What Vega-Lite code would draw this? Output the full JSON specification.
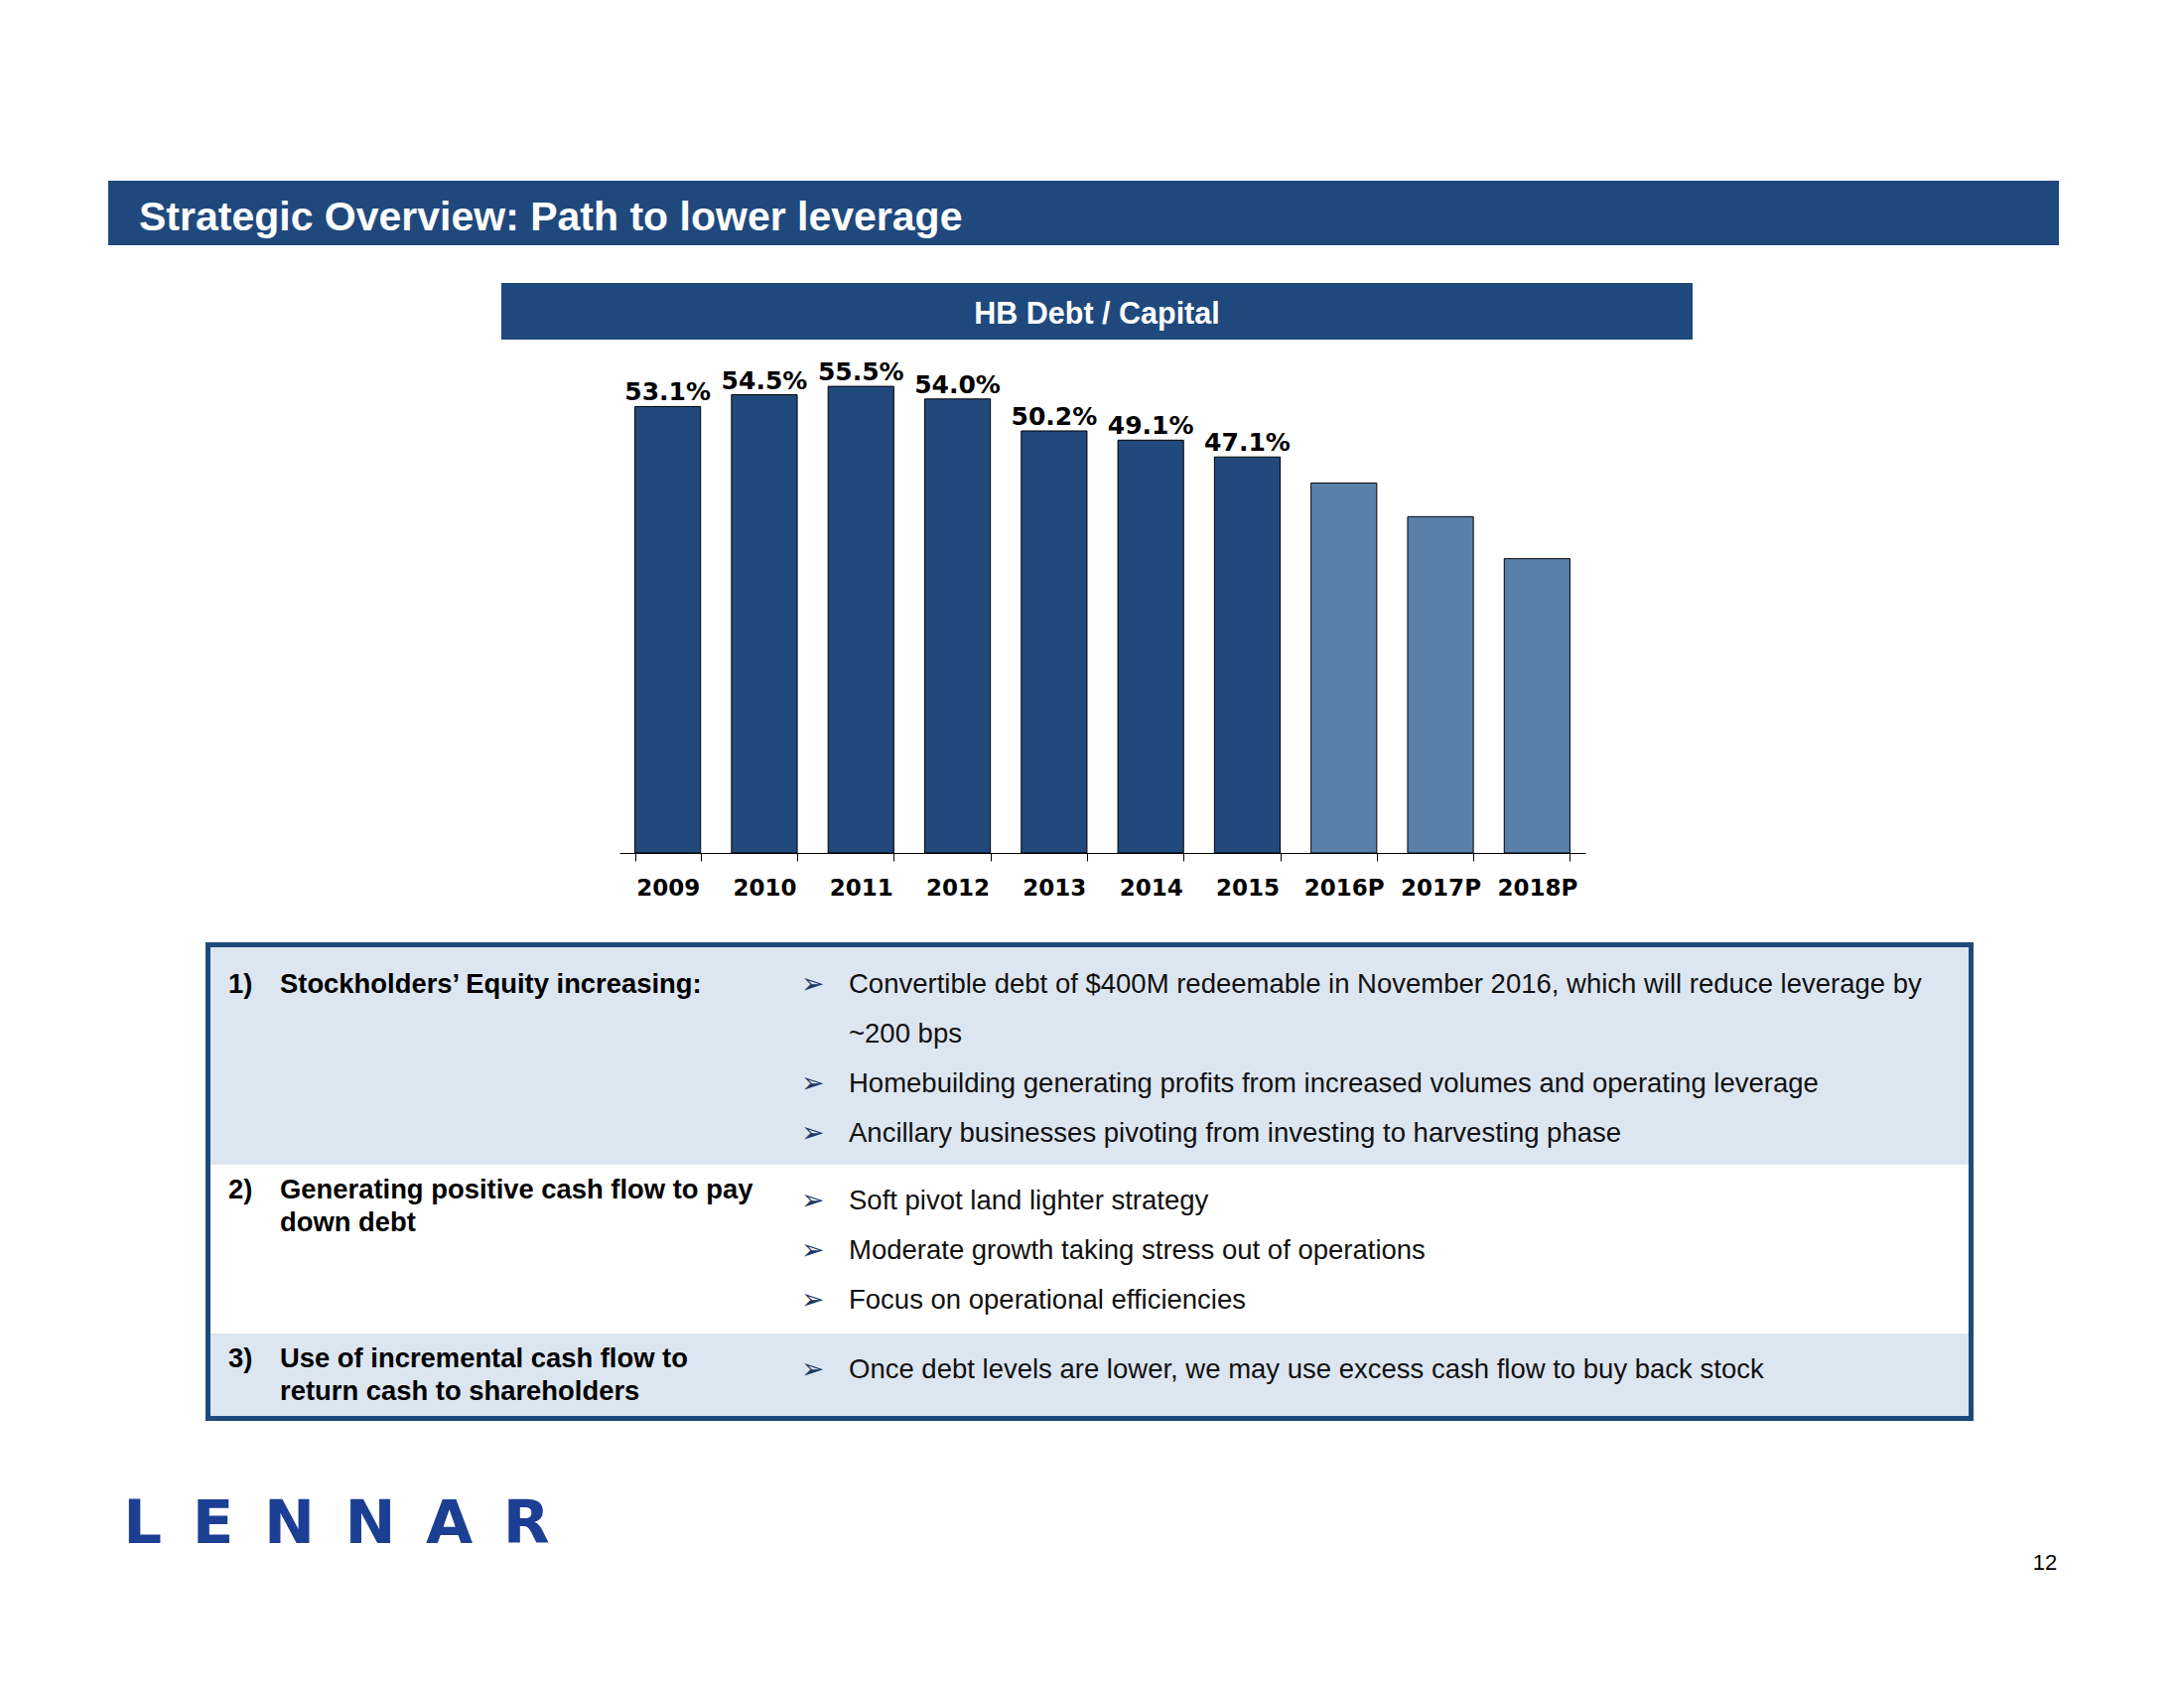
{
 "$schema": "https://vega.github.io/schema/vega-lite/v6.json",
 "background": "white",
 "padding": {"left": 109, "top": 182, "right": 0, "bottom": 0},
 "config": {"view": {"stroke": null}, "concat": {"spacing": 0}},
 "datasets": {
  "debt": [
   {"year": "2009", "value": 0.531, "type": "Actual"},
   {"year": "2010", "value": 0.545, "type": "Actual"},
   {"year": "2011", "value": 0.555, "type": "Actual"},
   {"year": "2012", "value": 0.540, "type": "Actual"},
   {"year": "2013", "value": 0.502, "type": "Actual"},
   {"year": "2014", "value": 0.491, "type": "Actual"},
   {"year": "2015", "value": 0.471, "type": "Actual"},
   {"year": "2016P", "value": 0.44, "type": "Projected"},
   {"year": "2017P", "value": 0.40, "type": "Projected"},
   {"year": "2018P", "value": 0.35, "type": "Projected"}
  ],
  "heads": [
   {"section": 1, "num": "1)", "head": ["Stockholders’ Equity increasing:"]},
   {"section": 2, "num": "2)", "head": ["Generating positive cash flow to pay", "down debt"]},
   {"section": 3, "num": "3)", "head": ["Use of incremental cash flow to", "return cash to shareholders"]}
  ],
  "items": [
   {"section": 1, "line": 0, "bullet": true, "text": "Convertible debt of $400M redeemable in November 2016, which will reduce leverage by"},
   {"section": 1, "line": 1, "bullet": false, "text": "~200 bps"},
   {"section": 1, "line": 2, "bullet": true, "text": "Homebuilding generating profits from increased volumes and operating leverage"},
   {"section": 1, "line": 3, "bullet": true, "text": "Ancillary businesses pivoting from investing to harvesting phase"},
   {"section": 2, "line": 0, "bullet": true, "text": "Soft pivot land lighter strategy"},
   {"section": 2, "line": 1, "bullet": true, "text": "Moderate growth taking stress out of operations"},
   {"section": 2, "line": 2, "bullet": true, "text": "Focus on operational efficiencies"},
   {"section": 3, "line": 0, "bullet": true, "text": "Once debt levels are lower, we may use excess cash flow to buy back stock"}
  ],
  "titles": [{"slide": "Strategic Overview: Path to lower leverage", "chart": "HB Debt / Capital", "brand": "L\u2002E\u2002N\u2002N\u2002A\u2002R", "page": "12"}]
 },
 "spacing": 0,
 "vconcat": [
  {"hconcat": [
    {"width": 31, "height": 65, "view": {"fill": "#1F497D", "stroke": null}, "data": {"values": []}, "mark": "rect", "encoding": {}},
    {"width": 1934, "height": 65, "view": {"fill": "#1F497D", "stroke": null}, "data": {"name": "titles"},
     "mark": {"type": "text", "align": "left", "baseline": "middle", "font": "Liberation Sans", "fontWeight": "bold", "fontSize": 41, "color": "white", "dy": 5},
     "encoding": {"x": {"datum": 0, "type": "quantitative", "scale": {"domain": [0, 1]}, "axis": null}, "text": {"field": "slide", "type": "nominal"}}}
   ], "spacing": 0},
  {"width": 1, "height": 38, "data": {"values": []}, "mark": "rect", "encoding": {}},
  {"hconcat": [
    {"width": 396, "height": 57, "data": {"values": []}, "mark": "rect", "encoding": {}},
    {"width": 1200, "height": 57, "view": {"fill": "#1F497D", "stroke": null}, "data": {"name": "titles"},
     "mark": {"type": "text", "align": "center", "baseline": "middle", "font": "Liberation Sans", "fontWeight": "bold", "fontSize": 30.5, "color": "white", "dy": 3},
     "encoding": {"text": {"field": "chart", "type": "nominal"}}}
   ], "spacing": 0},
  {"width": 1, "height": 9, "data": {"values": []}, "mark": "rect", "encoding": {}},
  {"hconcat": [
    {"width": 515, "height": 508, "data": {"values": []}, "mark": "rect", "encoding": {}},
    {"width": 973, "height": 508, "data": {"name": "debt"},
     "encoding": {
      "x": {"field": "year", "type": "nominal", "sort": null, "scale": {"paddingInner": 0.32, "paddingOuter": 0.16},
            "axis": {"title": null, "labelAngle": 0, "labelFont": "DejaVu Sans", "labelFontWeight": "bold", "labelFontSize": 23, "labelColor": "#000", "labelPadding": 16, "tickSize": 8, "tickColor": "#000", "domainColor": "#000", "tickBand": "extent", "grid": false}},
      "y": {"field": "value", "type": "quantitative", "scale": {"domain": [0, 0.6]}, "axis": null}
     },
     "layer": [
      {"mark": {"type": "bar", "stroke": "#000", "strokeWidth": 1},
       "encoding": {"color": {"field": "type", "type": "nominal", "scale": {"domain": ["Actual", "Projected"], "range": ["#21497C", "#5A80AA"]}, "legend": null}}},
      {"transform": [{"filter": "datum.type === 'Actual'"}],
       "mark": {"type": "text", "baseline": "bottom", "dy": -1, "font": "DejaVu Sans", "fontWeight": "bold", "fontSize": 25, "color": "#000"},
       "encoding": {"text": {"field": "value", "type": "quantitative", "format": ".1%"}}}
     ]}
   ], "spacing": 0},
  {"width": 1, "height": 43, "data": {"values": []}, "mark": "rect", "encoding": {}},
  {"hconcat": [
    {"width": 98, "height": 482, "data": {"values": []}, "mark": "rect", "encoding": {}},
    {"width": 5, "height": 482, "view": {"fill": "#1F497D", "stroke": null}, "data": {"values": []}, "mark": "rect", "encoding": {}},
    {"vconcat": [
      {"width": 1771, "height": 5, "view": {"fill": "#1F497D", "stroke": null}, "data": {"values": []}, "mark": "rect", "encoding": {}},
      {"hconcat": [
        {"width": 18, "height": 219, "view": {"fill": "#DCE6F1", "stroke": null}, "data": {"values": []}, "mark": "rect", "encoding": {}},
        {"width": 52, "height": 219, "view": {"fill": "#DCE6F1", "stroke": null}, "data": {"name": "heads"}, "transform": [{"filter": "datum.section === 1"}],
         "mark": {"type": "text", "align": "left", "baseline": "alphabetic", "font": "Liberation Sans", "fontWeight": "bold", "fontSize": 27.4, "color": "#000"},
         "encoding": {"x": {"datum": 0, "type": "quantitative", "scale": {"domain": [0, 1]}, "axis": null},
                      "y": {"datum": 0, "type": "quantitative", "scale": {"domain": [-0.92, 3.46], "reverse": true, "zero": false, "nice": false}, "axis": null},
                      "text": {"field": "num", "type": "nominal"}}},
        {"width": 525, "height": 219, "view": {"fill": "#DCE6F1", "stroke": null}, "data": {"name": "heads"}, "transform": [{"filter": "datum.section === 1"}],
         "mark": {"type": "text", "align": "left", "baseline": "alphabetic", "font": "Liberation Sans", "fontWeight": "bold", "fontSize": 27.4, "lineHeight": 33, "color": "#000"},
         "encoding": {"x": {"datum": 0, "type": "quantitative", "scale": {"domain": [0, 1]}, "axis": null},
                      "y": {"datum": 0, "type": "quantitative", "scale": {"domain": [-0.92, 3.46], "reverse": true, "zero": false, "nice": false}, "axis": null},
                      "text": {"field": "head", "type": "nominal"}}},
        {"width": 48, "height": 219, "view": {"fill": "#DCE6F1", "stroke": null}, "data": {"name": "items"}, "transform": [{"filter": "datum.section === 1 && datum.bullet"}],
         "mark": {"type": "text", "align": "left", "baseline": "alphabetic", "font": "DejaVu Sans", "fontSize": 28, "color": "#1F3864", "text": "➢", "dy": 0},
         "encoding": {"x": {"datum": 0, "type": "quantitative", "scale": {"domain": [0, 1]}, "axis": null},
                      "y": {"field": "line", "type": "quantitative", "scale": {"domain": [-0.92, 3.46], "reverse": true, "zero": false, "nice": false}, "axis": null}}},
        {"width": 1128, "height": 219, "view": {"fill": "#DCE6F1", "stroke": null}, "data": {"name": "items"}, "transform": [{"filter": "datum.section === 1"}],
         "mark": {"type": "text", "align": "left", "baseline": "alphabetic", "font": "Liberation Sans", "fontSize": 27.5, "color": "#111"},
         "encoding": {"x": {"datum": 0, "type": "quantitative", "scale": {"domain": [0, 1]}, "axis": null},
                      "y": {"field": "line", "type": "quantitative", "scale": {"domain": [-0.92, 3.46], "reverse": true, "zero": false, "nice": false}, "axis": null},
                      "text": {"field": "text", "type": "nominal"}}}
       ], "spacing": 0},
      {"hconcat": [
        {"width": 18, "height": 170, "view": {"fill": "#FFFFFF", "stroke": null}, "data": {"values": []}, "mark": "rect", "encoding": {}},
        {"width": 52, "height": 170, "view": {"fill": "#FFFFFF", "stroke": null}, "data": {"name": "heads"}, "transform": [{"filter": "datum.section === 2"}],
         "mark": {"type": "text", "align": "left", "baseline": "alphabetic", "font": "Liberation Sans", "fontWeight": "bold", "fontSize": 27.4, "color": "#000", "dy": -11},
         "encoding": {"x": {"datum": 0, "type": "quantitative", "scale": {"domain": [0, 1]}, "axis": null},
                      "y": {"datum": 0, "type": "quantitative", "scale": {"domain": [-0.9, 2.5], "reverse": true, "zero": false, "nice": false}, "axis": null},
                      "text": {"field": "num", "type": "nominal"}}},
        {"width": 525, "height": 170, "view": {"fill": "#FFFFFF", "stroke": null}, "data": {"name": "heads"}, "transform": [{"filter": "datum.section === 2"}],
         "mark": {"type": "text", "align": "left", "baseline": "alphabetic", "font": "Liberation Sans", "fontWeight": "bold", "fontSize": 27.4, "lineHeight": 33, "color": "#000", "dy": -11},
         "encoding": {"x": {"datum": 0, "type": "quantitative", "scale": {"domain": [0, 1]}, "axis": null},
                      "y": {"datum": 0, "type": "quantitative", "scale": {"domain": [-0.9, 2.5], "reverse": true, "zero": false, "nice": false}, "axis": null},
                      "text": {"field": "head", "type": "nominal"}}},
        {"width": 48, "height": 170, "view": {"fill": "#FFFFFF", "stroke": null}, "data": {"name": "items"}, "transform": [{"filter": "datum.section === 2 && datum.bullet"}],
         "mark": {"type": "text", "align": "left", "baseline": "alphabetic", "font": "DejaVu Sans", "fontSize": 28, "color": "#1F3864", "text": "➢", "dy": 0},
         "encoding": {"x": {"datum": 0, "type": "quantitative", "scale": {"domain": [0, 1]}, "axis": null},
                      "y": {"field": "line", "type": "quantitative", "scale": {"domain": [-0.9, 2.5], "reverse": true, "zero": false, "nice": false}, "axis": null}}},
        {"width": 1128, "height": 170, "view": {"fill": "#FFFFFF", "stroke": null}, "data": {"name": "items"}, "transform": [{"filter": "datum.section === 2"}],
         "mark": {"type": "text", "align": "left", "baseline": "alphabetic", "font": "Liberation Sans", "fontSize": 27.5, "color": "#111"},
         "encoding": {"x": {"datum": 0, "type": "quantitative", "scale": {"domain": [0, 1]}, "axis": null},
                      "y": {"field": "line", "type": "quantitative", "scale": {"domain": [-0.9, 2.5], "reverse": true, "zero": false, "nice": false}, "axis": null},
                      "text": {"field": "text", "type": "nominal"}}}
       ], "spacing": 0},
      {"hconcat": [
        {"width": 18, "height": 83, "view": {"fill": "#DCE6F1", "stroke": null}, "data": {"values": []}, "mark": "rect", "encoding": {}},
        {"width": 52, "height": 83, "view": {"fill": "#DCE6F1", "stroke": null}, "data": {"name": "heads"}, "transform": [{"filter": "datum.section === 3"}],
         "mark": {"type": "text", "align": "left", "baseline": "alphabetic", "font": "Liberation Sans", "fontWeight": "bold", "fontSize": 27.4, "color": "#000", "dy": -11},
         "encoding": {"x": {"datum": 0, "type": "quantitative", "scale": {"domain": [0, 1]}, "axis": null},
                      "y": {"datum": 0, "type": "quantitative", "scale": {"domain": [-0.9, 0.76], "reverse": true, "zero": false, "nice": false}, "axis": null},
                      "text": {"field": "num", "type": "nominal"}}},
        {"width": 525, "height": 83, "view": {"fill": "#DCE6F1", "stroke": null}, "data": {"name": "heads"}, "transform": [{"filter": "datum.section === 3"}],
         "mark": {"type": "text", "align": "left", "baseline": "alphabetic", "font": "Liberation Sans", "fontWeight": "bold", "fontSize": 27.4, "lineHeight": 33, "color": "#000", "dy": -11},
         "encoding": {"x": {"datum": 0, "type": "quantitative", "scale": {"domain": [0, 1]}, "axis": null},
                      "y": {"datum": 0, "type": "quantitative", "scale": {"domain": [-0.9, 0.76], "reverse": true, "zero": false, "nice": false}, "axis": null},
                      "text": {"field": "head", "type": "nominal"}}},
        {"width": 48, "height": 83, "view": {"fill": "#DCE6F1", "stroke": null}, "data": {"name": "items"}, "transform": [{"filter": "datum.section === 3 && datum.bullet"}],
         "mark": {"type": "text", "align": "left", "baseline": "alphabetic", "font": "DejaVu Sans", "fontSize": 28, "color": "#1F3864", "text": "➢", "dy": 0},
         "encoding": {"x": {"datum": 0, "type": "quantitative", "scale": {"domain": [0, 1]}, "axis": null},
                      "y": {"field": "line", "type": "quantitative", "scale": {"domain": [-0.9, 0.76], "reverse": true, "zero": false, "nice": false}, "axis": null}}},
        {"width": 1128, "height": 83, "view": {"fill": "#DCE6F1", "stroke": null}, "data": {"name": "items"}, "transform": [{"filter": "datum.section === 3"}],
         "mark": {"type": "text", "align": "left", "baseline": "alphabetic", "font": "Liberation Sans", "fontSize": 27.5, "color": "#111"},
         "encoding": {"x": {"datum": 0, "type": "quantitative", "scale": {"domain": [0, 1]}, "axis": null},
                      "y": {"field": "line", "type": "quantitative", "scale": {"domain": [-0.9, 0.76], "reverse": true, "zero": false, "nice": false}, "axis": null},
                      "text": {"field": "text", "type": "nominal"}}}
       ], "spacing": 0},
      {"width": 1771, "height": 5, "view": {"fill": "#1F497D", "stroke": null}, "data": {"values": []}, "mark": "rect", "encoding": {}}
     ], "spacing": 0},
    {"width": 5, "height": 482, "view": {"fill": "#1F497D", "stroke": null}, "data": {"values": []}, "mark": "rect", "encoding": {}}
   ], "spacing": 0},
  {"width": 1, "height": 64, "data": {"values": []}, "mark": "rect", "encoding": {}},
  {"hconcat": [
    {"width": 14, "height": 70, "data": {"values": []}, "mark": "rect", "encoding": {}},
    {"width": 432, "height": 70, "data": {"name": "titles"},
     "mark": {"type": "text", "align": "center", "baseline": "middle", "font": "DejaVu Sans", "fontWeight": "bold", "fontSize": 61, "color": "#1C3F94", "dy": 6},
     "encoding": {"text": {"field": "brand", "type": "nominal"}}},
    {"width": 1490, "height": 70, "data": {"values": []}, "mark": "rect", "encoding": {}},
    {"width": 30, "height": 152, "data": {"name": "titles"},
     "mark": {"type": "text", "align": "center", "baseline": "middle", "font": "Liberation Sans", "fontSize": 22, "color": "#000", "dy": 3},
     "encoding": {"text": {"field": "page", "type": "nominal"}}}
   ], "spacing": 0}
 ]
}
